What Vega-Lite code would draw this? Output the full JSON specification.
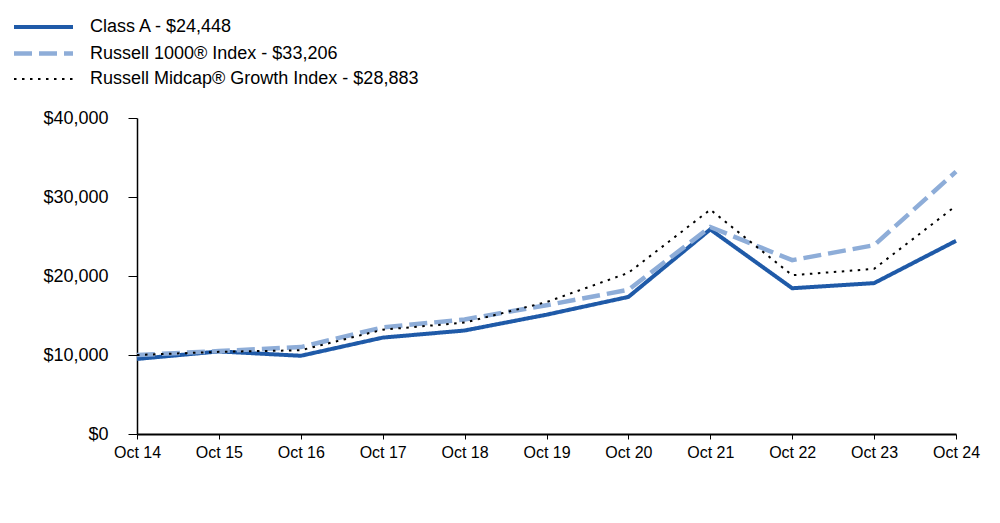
{
  "$schema": "https://vega.github.io/schema/vega-lite/v6.json",
  "autosize": {"type": "none"},
  "width": 819,
  "height": 316,
  "padding": {"left": 137, "top": 118, "right": 44, "bottom": 89},
  "config": {
    "view": {"stroke": null},
    "font": "Liberation Sans"
  },
  "data": {
    "values": [
      {"date": "Oct 14", "series": "Class A - $24,448", "value": 9500},
      {"date": "Oct 15", "series": "Class A - $24,448", "value": 10450},
      {"date": "Oct 16", "series": "Class A - $24,448", "value": 9900},
      {"date": "Oct 17", "series": "Class A - $24,448", "value": 12200},
      {"date": "Oct 18", "series": "Class A - $24,448", "value": 13100},
      {"date": "Oct 19", "series": "Class A - $24,448", "value": 15100},
      {"date": "Oct 20", "series": "Class A - $24,448", "value": 17350},
      {"date": "Oct 21", "series": "Class A - $24,448", "value": 25900},
      {"date": "Oct 22", "series": "Class A - $24,448", "value": 18450},
      {"date": "Oct 23", "series": "Class A - $24,448", "value": 19100},
      {"date": "Oct 24", "series": "Class A - $24,448", "value": 24448},
      {"date": "Oct 14", "series": "Russell 1000® Index - $33,206", "value": 10000},
      {"date": "Oct 15", "series": "Russell 1000® Index - $33,206", "value": 10500},
      {"date": "Oct 16", "series": "Russell 1000® Index - $33,206", "value": 11000},
      {"date": "Oct 17", "series": "Russell 1000® Index - $33,206", "value": 13500},
      {"date": "Oct 18", "series": "Russell 1000® Index - $33,206", "value": 14500},
      {"date": "Oct 19", "series": "Russell 1000® Index - $33,206", "value": 16300},
      {"date": "Oct 20", "series": "Russell 1000® Index - $33,206", "value": 18250},
      {"date": "Oct 21", "series": "Russell 1000® Index - $33,206", "value": 26200},
      {"date": "Oct 22", "series": "Russell 1000® Index - $33,206", "value": 22000},
      {"date": "Oct 23", "series": "Russell 1000® Index - $33,206", "value": 23900},
      {"date": "Oct 24", "series": "Russell 1000® Index - $33,206", "value": 33206},
      {"date": "Oct 14", "series": "Russell Midcap® Growth Index - $28,883", "value": 10000},
      {"date": "Oct 15", "series": "Russell Midcap® Growth Index - $28,883", "value": 10400},
      {"date": "Oct 16", "series": "Russell Midcap® Growth Index - $28,883", "value": 10600},
      {"date": "Oct 17", "series": "Russell Midcap® Growth Index - $28,883", "value": 13200},
      {"date": "Oct 18", "series": "Russell Midcap® Growth Index - $28,883", "value": 14100},
      {"date": "Oct 19", "series": "Russell Midcap® Growth Index - $28,883", "value": 16700},
      {"date": "Oct 20", "series": "Russell Midcap® Growth Index - $28,883", "value": 20400},
      {"date": "Oct 21", "series": "Russell Midcap® Growth Index - $28,883", "value": 28400},
      {"date": "Oct 22", "series": "Russell Midcap® Growth Index - $28,883", "value": 20100},
      {"date": "Oct 23", "series": "Russell Midcap® Growth Index - $28,883", "value": 20900},
      {"date": "Oct 24", "series": "Russell Midcap® Growth Index - $28,883", "value": 28883}
    ]
  },
  "mark": {"type": "line", "strokeCap": "butt", "strokeJoin": "miter"},
  "encoding": {
    "x": {
      "field": "date",
      "type": "ordinal",
      "scale": {"type": "point", "padding": 0},
      "axis": {
        "title": null,
        "labelAngle": 0,
        "labelFontSize": 16,
        "labelColor": "#000000",
        "labelPadding": 5,
        "tickSize": 5,
        "tickColor": "#000000",
        "domainColor": "#000000",
        "domainWidth": 2,
        "grid": false
      }
    },
    "y": {
      "field": "value",
      "type": "quantitative",
      "scale": {"domain": [0, 40000]},
      "axis": {
        "title": null,
        "values": [0, 10000, 20000, 30000, 40000],
        "format": "$,.0f",
        "labelFontSize": 18,
        "labelColor": "#000000",
        "labelPadding": 20,
        "tickSize": 9,
        "tickColor": "#000000",
        "domainColor": "#000000",
        "domainWidth": 1.5,
        "grid": false
      }
    },
    "color": {
      "field": "series",
      "type": "nominal",
      "scale": {"range": ["#1F5AA8", "#8EADD8", "#000000"]},
      "legend": {
        "title": null,
        "orient": "none",
        "legendX": -106,
        "legendY": -103,
        "symbolType": "M-2.95,0H2.95",
        "symbolSize": 400,
        "labelFontSize": 18,
        "labelColor": "#000000",
        "labelOffset": 34,
        "rowPadding": 5,
        "labelLimit": 500
      }
    },
    "strokeDash": {
      "field": "series",
      "type": "nominal",
      "scale": {"range": [[1, 0], [18, 7], [2.5, 5.5]]},
      "legend": {
        "title": null,
        "orient": "none",
        "legendX": -106,
        "legendY": -103,
        "symbolType": "M-2.95,0H2.95",
        "symbolSize": 400,
        "labelFontSize": 18,
        "labelColor": "#000000",
        "labelOffset": 34,
        "rowPadding": 5,
        "labelLimit": 500
      }
    },
    "strokeWidth": {
      "field": "series",
      "type": "nominal",
      "scale": {"type": "ordinal", "range": [4, 4.5, 2]},
      "legend": {
        "title": null,
        "orient": "none",
        "legendX": -106,
        "legendY": -103,
        "symbolType": "M-2.95,0H2.95",
        "symbolSize": 400,
        "labelFontSize": 18,
        "labelColor": "#000000",
        "labelOffset": 34,
        "rowPadding": 5,
        "labelLimit": 500
      }
    }
  }
}
